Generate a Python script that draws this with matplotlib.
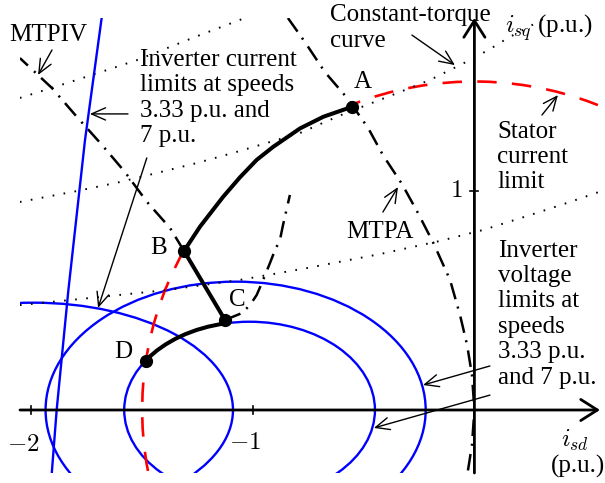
import matplotlib
matplotlib.use("Agg")
import matplotlib.pyplot as plt
from matplotlib.patches import Arc, Ellipse

plt.rcParams['font.family'] = ['Liberation Serif', 'DejaVu Serif']
plt.rcParams['mathtext.fontset'] = 'cm'
plt.rcParams['lines.scale_dashes'] = False

# operating points of the trajectory (i_sd, i_sq), p.u.
pt_A = (-0.551, 1.385)
pt_B = (-1.311, 0.726)
pt_C = (-1.126, 0.411)
pt_D = (-1.484, 0.225)

# A -> B part of the trajectory
ab_d = [-0.551, -0.682, -0.787, -0.908, -0.983, -1.058, -1.134, -1.239, -1.311]
ab_q = [1.385, 1.339, 1.286, 1.202, 1.142, 1.063, 0.974, 0.837, 0.726]

# MTPA
mtpa_d = [-0.842, -0.765, -0.675, -0.575, -0.480, -0.413, -0.327, -0.255, -0.183,
          -0.110, -0.065, -0.033, -0.011, 0.0, -0.011, -0.038]
mtpa_q = [1.790, 1.680, 1.543, 1.425, 1.288, 1.164, 1.032, 0.900, 0.758,
          0.594, 0.434, 0.297, 0.160, 0.0, -0.160, -0.333]

# MTPIV through B, and the short one leaving C
mtpiv_d = [-1.311, -1.374, -1.478, -1.578, -1.681, -1.790, -1.907, -2.052]
mtpiv_q = [0.726, 0.831, 0.950, 1.087, 1.210, 1.333, 1.470, 1.607]
mtpiv2_d = [-1.126, -1.051, -1.013, -0.983, -0.960, -0.923, -0.900, -0.878, -0.864, -0.833]
mtpiv2_q = [0.411, 0.442, 0.479, 0.525, 0.579, 0.671, 0.731, 0.776, 0.845, 0.982]

# constant-torque curves
trq1_d = [-2.052, -1.839, -1.645, -1.523, -1.262, -1.049, -0.990]
trq1_q = [1.425, 1.493, 1.557, 1.598, 1.703, 1.785, 1.810]
trq2_d = [-2.052, -1.794, -1.600, -1.451, -1.252, -1.058, -0.909, -0.787, -0.675,
          -0.590, -0.394, -0.291, -0.201, -0.101, -0.020, 0.070, 0.152, 0.228, 0.319]
trq2_q = [0.950, 1.000, 1.041, 1.078, 1.128, 1.183, 1.228, 1.265, 1.315,
          1.352, 1.429, 1.470, 1.507, 1.557, 1.598, 1.648, 1.699, 1.740, 1.790]
trq3_d = [-2.052, -1.690, -1.388, -1.058, -0.756, -0.426, -0.155, 0.039, 0.251, 0.432, 0.589]
trq3_q = [0.479, 0.516, 0.548, 0.594, 0.648, 0.712, 0.772, 0.822, 0.890, 0.950, 1.005]

# stator current limit radius
i_max = 1.5

# inverter voltage limit ellipses (3.33 p.u., 7 p.u.)
volt_cx = [-1.078, -1.015]
volt_a = [0.858, 0.566]
volt_b = [0.586, 0.403]

# inverter current limits: 3.33 p.u. (near-straight) and 7 p.u. (ellipse)
cur1_d = [-1.683, -1.758, -1.833, -1.886, -1.908]
cur1_q = [1.789, 1.233, 0.548, 0.0, -0.288]
cur2_cx, cur2_a, cur2_b = -1.99, 0.90, 0.49

fig = plt.figure(figsize=(6.05, 4.83), dpi=100)
ax = fig.add_axes([20 / 605, 10 / 483, 585 / 605, 455 / 483])
ax.set_xlim(-2.0515, 0.5896)
ax.set_ylim(-0.2877, 1.790)
ax.axis('off')

dotted = (0, (1.2, 6.8))
dashdot = (0, (12, 5.5, 1.5, 6))
red_dash = (0, (14, 11))

for d, q in [(trq1_d, trq1_q), (trq2_d, trq2_q), (trq3_d, trq3_q)]:
    ax.plot(d, q, color='k', lw=1.4, ls=dotted)

ax.plot(mtpa_d, mtpa_q, color='k', lw=1.8, ls=dashdot)
ax.plot(mtpiv_d, mtpiv_q, color='k', lw=1.8, ls=dashdot)
ax.plot(mtpiv2_d, mtpiv2_q, color='k', lw=1.8, ls=dashdot)

# blue limits
for cx, a, b in zip(volt_cx, volt_a, volt_b):
    ax.add_patch(Ellipse((cx, 0), 2 * a, 2 * b, fill=False, ec='#0000ff', lw=1.7))
ax.add_patch(Ellipse((cur2_cx, 0), 2 * cur2_a, 2 * cur2_b, fill=False, ec='#0000ff', lw=1.7))
ax.plot(cur1_d, cur1_q, color='#0000ff', lw=1.7)

# stator current limit circle (dashed red)
ax.add_patch(Arc((0, 0), 2 * i_max, 2 * i_max, theta1=20, theta2=111.7,
                 ec='#ff0000', lw=1.9, ls=red_dash))
ax.add_patch(Arc((0, 0), 2 * i_max, 2 * i_max, theta1=151.0, theta2=200,
                 ec='#ff0000', lw=1.9, ls=red_dash))

# trajectory A-B-C-D
ax.plot(ab_d, ab_q, color='k', lw=2.9, solid_capstyle='round')
ax.plot([pt_B[0], pt_C[0]], [pt_B[1], pt_C[1]], color='k', lw=2.9, solid_capstyle='round')
ax.add_patch(Arc((volt_cx[1], 0), 2 * volt_a[1], 2 * volt_b[1], theta1=105.1, theta2=154.4,
                 ec='k', lw=2.9, zorder=4))
for p in [pt_A, pt_B, pt_C, pt_D]:
    ax.plot(p[0], p[1], 'o', color='k', ms=8.5, zorder=5)

# coordinate axes
axis_arrow = dict(arrowstyle='->,head_length=0.6,head_width=0.38', lw=2, color='k',
                  shrinkA=0, shrinkB=0, mutation_scale=20)
ax.annotate('', xy=(0.567, 0), xytext=(-2.0515, 0), arrowprops=axis_arrow, annotation_clip=False)
ax.annotate('', xy=(0, 1.790), xytext=(0, -0.2877), arrowprops=axis_arrow, annotation_clip=False)
for xt in [-2, -1]:
    ax.plot([xt, xt], [-0.018, 0.018], color='k', lw=1.2)
ax.plot([-0.018, 0.018], [1, 1], color='k', lw=1.2)

fs = 18
ax.text(-2.038, -0.16, '$-2$', fontsize=fs, ha='center', va='center')
ax.text(-1.036, -0.151, '$-1$', fontsize=fs, ha='center', va='center')
ax.text(-0.083, 1.0, '$1$', fontsize=fs, ha='center', va='center')
ax.text(0.454, -0.137, '$i_{sd}$', fontsize=fs, ha='center', va='center')
ax.text(0.468, -0.26, '(p.u.)', fontsize=fs, ha='center', va='center')
ax.text(0.138, 1.744, '$i_{sq}$ (p.u.)', fontsize=fs, ha='left', va='center', clip_on=False)

for name, xy in [('A', (-0.503, 1.498)), ('B', (-1.424, 0.740)),
                 ('C', (-1.072, 0.502)), ('D', (-1.587, 0.265))]:
    ax.text(xy[0], xy[1], name, fontsize=fs, ha='center', va='center')

label_arrow = dict(arrowstyle='->,head_length=0.5,head_width=0.22', lw=1, color='k',
                   shrinkA=0, shrinkB=0, mutation_scale=20)

def note(tip, tail, style=label_arrow):
    ax.annotate('', xy=tip, xytext=tail, arrowprops=style, annotation_clip=False)

ax.text(-1.925, 1.712, 'MTPIV', fontsize=fs, ha='center', va='center')
note((-1.970, 1.530), (-1.907, 1.644))

ax.text(-1.510, 1.425, 'Inverter current\nlimits at speeds\n3.33 p.u. and\n7 p.u.',
        fontsize=fs, ha='left', va='center', linespacing=1.2)
note((-1.736, 1.352), (-1.564, 1.352))
note((-1.699, 0.466), (-1.479, 1.151))

ax.text(-0.652, 1.744, 'Constant-torque\ncurve', fontsize=fs, ha='left', va='center',
        linespacing=1.2, clip_on=False)
note((-0.088, 1.575), (-0.282, 1.712))

ax.text(0.102, 1.155, 'Stator\ncurrent\nlimit', fontsize=fs, ha='left', va='center',
        linespacing=1.2)
note((0.377, 1.438), (0.305, 1.347))

ax.text(-0.426, 0.813, 'MTPA', fontsize=fs, ha='center', va='center')
note((-0.345, 1.018), (-0.413, 0.904))

ax.text(0.107, 0.438, 'Inverter\nvoltage\nlimits at\nspeeds\n3.33 p.u.\nand 7 p.u.',
        fontsize=fs, ha='left', va='center', linespacing=1.2)
note((-0.232, 0.114), (0.070, 0.201))
note((-0.454, -0.082), (0.070, 0.068))

fig.savefig('out.png', dpi=100)
